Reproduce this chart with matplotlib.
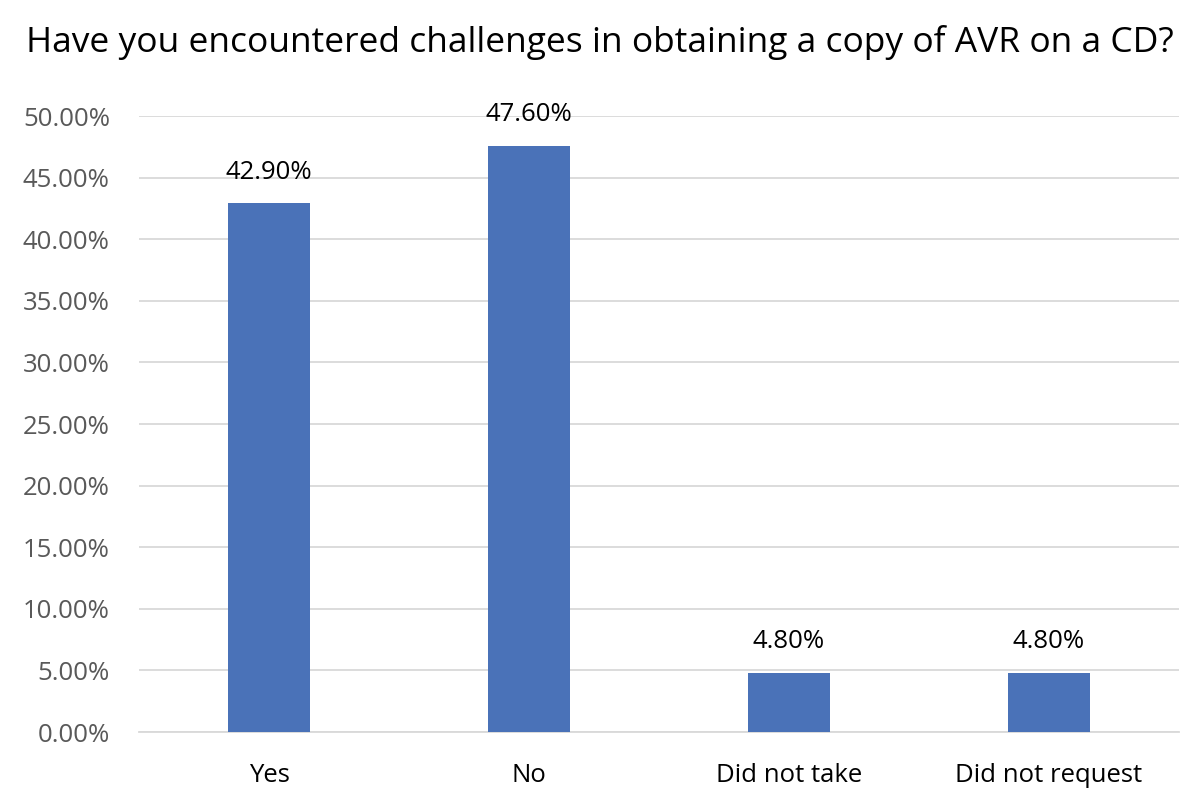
import numpy as np
import matplotlib
matplotlib.use("Agg")
import matplotlib.pyplot as plt
from matplotlib.ticker import FuncFormatter

categories = ["Yes", "No", "Did not take", "Did not request"]
values = [42.9, 47.6, 4.8, 4.8]
yticks = np.arange(0, 55, 5)

plt.rcParams['font.family'] = ['Open Sans', 'DejaVu Sans']

fig = plt.figure(figsize=(12, 8.05), dpi=100)
ax = fig.add_axes([139/1200, 73/805, 1040/1200, (732-116)/805])

x = np.arange(len(categories))
bars = ax.bar(x, values, width=0.315, color="#4a72b8", zorder=3)
for b, v in zip(bars, values):
    ax.text(b.get_x() + b.get_width()/2, v + 1.5, f"{v:.2f}%", ha="center", va="bottom",
            fontsize=18.5, color="black")

ax.set_xlim(-0.5, len(categories) - 0.5)
ax.set_ylim(0, 50)
ax.set_yticks(yticks)
ax.yaxis.set_major_formatter(FuncFormatter(lambda v, p: f"{v:.2f}%"))
ax.set_xticks(x)
ax.set_xticklabels(categories)
ax.tick_params(axis="both", length=0, labelsize=18.5, colors="#595959")
ax.tick_params(axis="x", colors="black", pad=22)
ax.tick_params(axis="y", pad=21)
ax.grid(axis="y", color="#d9d9d9", linewidth=1.3, zorder=0)
for s in ["top", "right", "left"]:
    ax.spines[s].set_visible(False)
ax.spines["bottom"].set_color("#d9d9d9")
ax.spines["bottom"].set_linewidth(1.3)

fig.text(0.5, 1 - 42/805, "Have you encountered challenges in obtaining a copy of AVR on a CD?",
         ha="center", va="center", fontsize=25.5, color="black")

fig.savefig("out.png", dpi=100)
